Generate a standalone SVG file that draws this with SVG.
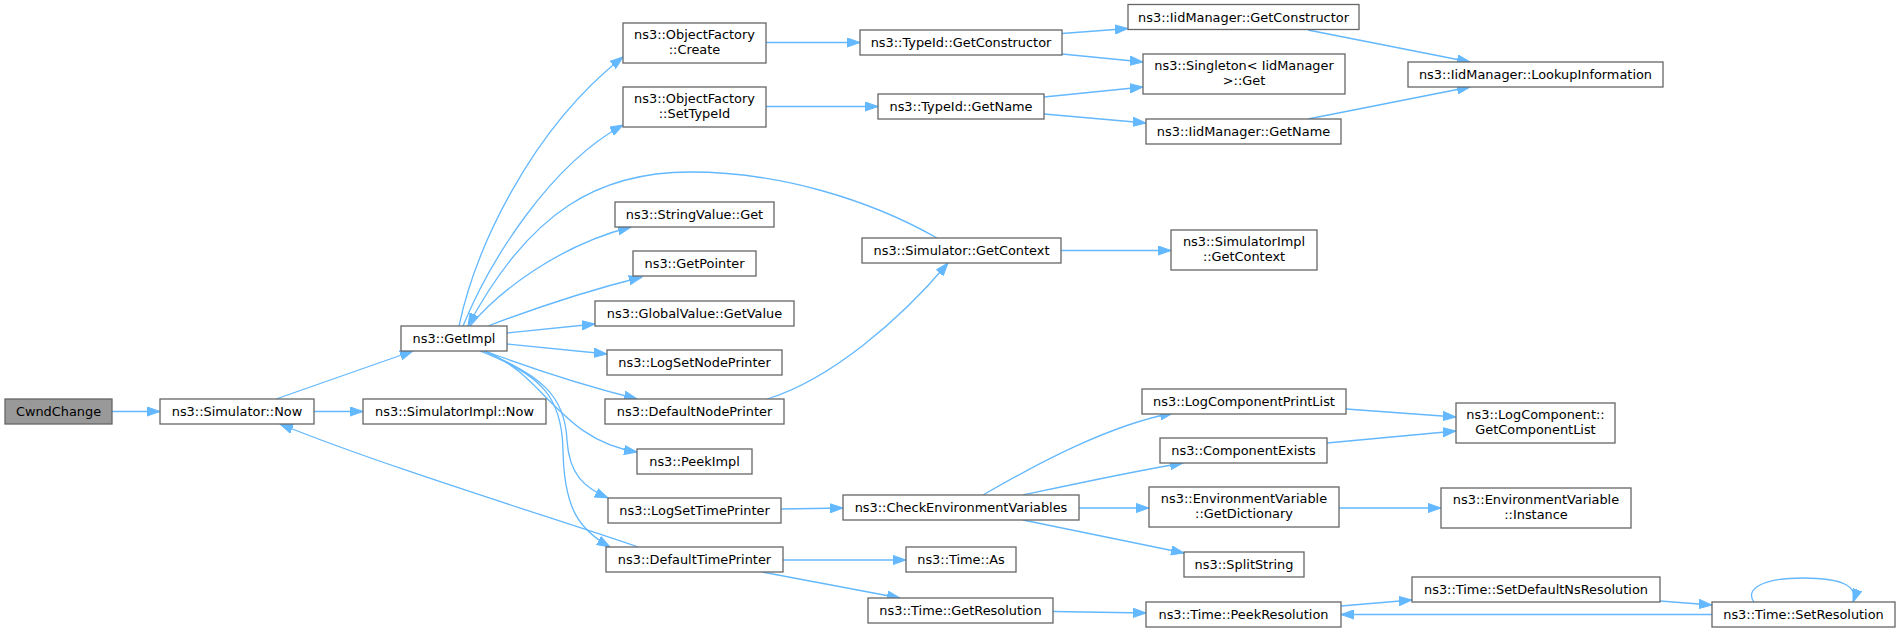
<svg xmlns="http://www.w3.org/2000/svg" width="1901" height="632" viewBox="0 0 1901 632">
<defs>
<style>
.n rect{fill:#ffffff;stroke:#666666;stroke-width:1.3}
.n.root rect{fill:#999999}
.n text{font-family:"DejaVu Sans","Liberation Sans",sans-serif;font-size:12.9px;fill:#000000;text-anchor:middle}
.e path{fill:none;stroke:#63b8ff;stroke-width:1.3;marker-end:url(#ah)}
</style>
<marker id="ah" markerUnits="userSpaceOnUse" markerWidth="14" markerHeight="10" viewBox="0 0 14 10" refX="13" refY="5" orient="auto">
<path d="M0,0.4 L13,5 L0,9.6 z" fill="#63b8ff" stroke="#63b8ff" stroke-width="1"/>
</marker>
</defs>
<rect width="1901" height="632" fill="#ffffff"/>
<g id="edges" class="e">
<path d="M112,411.5 L160,411.5"/>
<path d="M276,399 L413,351"/>
<path d="M314,411.5 L363,411.5"/>
<path d="M459,326 C475,250 530,130 623,57"/>
<path d="M463,326 C490,260 550,165 623,125"/>
<path d="M470,326 C500,290 560,245 631,227"/>
<path d="M488,326 C530,310 590,290 642,277"/>
<path d="M507,333 L595,324"/>
<path d="M507,344 L607,354"/>
<path d="M485,351 C530,368 590,387 637,399"/>
<path d="M485,351 C545,375 560,440 637,452"/>
<path d="M483,351 C540,375 565,395 567,440 C569,475 585,488 608,498"/>
<path d="M480,351 C540,375 562,395 563,450 C564,510 580,530 610,547"/>
<path d="M937,238 C870,200 780,172 690,172 C600,172 530,210 468,326"/>
<path d="M638,547 C560,520 380,465 280,424"/>
<path d="M767,399 C830,380 900,320 948,263"/>
<path d="M766,42.5 L860,42.5"/>
<path d="M766,106.5 L878,106.5"/>
<path d="M1062,33.5 L1128,28.5"/>
<path d="M1062,54 L1143,62"/>
<path d="M1044,97 L1143,87"/>
<path d="M1044,114 L1146,123"/>
<path d="M1308,30 L1470,62"/>
<path d="M1308,119 L1470,87"/>
<path d="M1061,250.5 L1171,250.5"/>
<path d="M781,509 L843,508"/>
<path d="M983,495 C1040,462 1110,425 1173,413"/>
<path d="M1023,495 C1070,485 1130,472 1183,463"/>
<path d="M1079,508 L1149,508"/>
<path d="M1023,520 L1184,553"/>
<path d="M783,560 L906,560"/>
<path d="M762,572 L900,598"/>
<path d="M1053,611.5 L1146,613"/>
<path d="M1346,409 L1456,417"/>
<path d="M1327,443 L1456,431"/>
<path d="M1339,508 L1441,508"/>
<path d="M1341,606 L1412,600"/>
<path d="M1660,601 L1712,605"/>
<path d="M1712,614.5 L1341,614.5"/>
<path d="M1754,602 C1745,590 1760,578 1803,578 C1846,578 1858,588 1853,602"/>
</g>
<g id="CwndChange" class="n root"><rect x="5" y="399" width="107" height="25"/><text x="58.5" y="416">CwndChange</text></g>
<g id="SimulatorNow" class="n"><rect x="160" y="399" width="154" height="25"/><text x="237" y="416">ns3::Simulator::Now</text></g>
<g id="SimulatorImplNow" class="n"><rect x="363" y="399" width="183" height="25"/><text x="454.5" y="416">ns3::SimulatorImpl::Now</text></g>
<g id="GetImpl" class="n"><rect x="401" y="326" width="106" height="25"/><text x="454" y="343">ns3::GetImpl</text></g>
<g id="ObjectFactoryCreate" class="n"><rect x="623" y="23" width="143" height="40"/><text x="694.5" y="39">ns3::ObjectFactory</text><text x="694.5" y="53.5">::Create</text></g>
<g id="ObjectFactorySetTypeId" class="n"><rect x="623" y="87" width="143" height="40"/><text x="694.5" y="103">ns3::ObjectFactory</text><text x="694.5" y="117.5">::SetTypeId</text></g>
<g id="StringValueGet" class="n"><rect x="615" y="202" width="159" height="25"/><text x="694.5" y="219">ns3::StringValue::Get</text></g>
<g id="GetPointer" class="n"><rect x="633" y="251" width="123" height="25"/><text x="694.5" y="268">ns3::GetPointer</text></g>
<g id="GlobalValueGetValue" class="n"><rect x="595" y="301" width="199" height="25"/><text x="694.5" y="318">ns3::GlobalValue::GetValue</text></g>
<g id="LogSetNodePrinter" class="n"><rect x="607" y="350" width="175" height="25"/><text x="694.5" y="367">ns3::LogSetNodePrinter</text></g>
<g id="DefaultNodePrinter" class="n"><rect x="605" y="399" width="179" height="25"/><text x="694.5" y="416">ns3::DefaultNodePrinter</text></g>
<g id="PeekImpl" class="n"><rect x="637" y="449" width="115" height="25"/><text x="694.5" y="466">ns3::PeekImpl</text></g>
<g id="LogSetTimePrinter" class="n"><rect x="608" y="498" width="173" height="25"/><text x="694.5" y="515">ns3::LogSetTimePrinter</text></g>
<g id="DefaultTimePrinter" class="n"><rect x="606" y="547" width="177" height="25"/><text x="694.5" y="564">ns3::DefaultTimePrinter</text></g>
<g id="TypeIdGetConstructor" class="n"><rect x="860" y="30" width="202" height="25"/><text x="961" y="47">ns3::TypeId::GetConstructor</text></g>
<g id="TypeIdGetName" class="n"><rect x="878" y="94" width="166" height="25"/><text x="961" y="111">ns3::TypeId::GetName</text></g>
<g id="SimulatorGetContext" class="n"><rect x="862" y="238" width="199" height="25"/><text x="961.5" y="255">ns3::Simulator::GetContext</text></g>
<g id="CheckEnvironmentVariables" class="n"><rect x="843" y="495" width="236" height="25"/><text x="961" y="512">ns3::CheckEnvironmentVariables</text></g>
<g id="TimeAs" class="n"><rect x="906" y="547" width="110" height="25"/><text x="961" y="564">ns3::Time::As</text></g>
<g id="TimeGetResolution" class="n"><rect x="868" y="598" width="185" height="25"/><text x="960.5" y="615">ns3::Time::GetResolution</text></g>
<g id="IidManagerGetConstructor" class="n"><rect x="1128" y="4.5" width="231" height="25"/><text x="1243.5" y="21.5">ns3::IidManager::GetConstructor</text></g>
<g id="SingletonIidManagerGet" class="n"><rect x="1143" y="54" width="202" height="40"/><text x="1244" y="70">ns3::Singleton&lt; IidManager</text><text x="1244" y="84.5">&gt;::Get</text></g>
<g id="IidManagerGetName" class="n"><rect x="1146" y="119" width="195" height="25"/><text x="1243.5" y="136">ns3::IidManager::GetName</text></g>
<g id="SimulatorImplGetContext" class="n"><rect x="1171" y="230" width="146" height="40"/><text x="1244" y="246">ns3::SimulatorImpl</text><text x="1244" y="260.5">::GetContext</text></g>
<g id="LogComponentPrintList" class="n"><rect x="1142" y="389" width="204" height="25"/><text x="1244" y="406">ns3::LogComponentPrintList</text></g>
<g id="ComponentExists" class="n"><rect x="1160" y="438" width="167" height="25"/><text x="1243.5" y="455">ns3::ComponentExists</text></g>
<g id="EnvironmentVariableGetDictionary" class="n"><rect x="1149" y="487" width="190" height="40"/><text x="1244" y="503">ns3::EnvironmentVariable</text><text x="1244" y="517.5">::GetDictionary</text></g>
<g id="SplitString" class="n"><rect x="1184" y="552" width="120" height="25"/><text x="1244" y="569">ns3::SplitString</text></g>
<g id="TimePeekResolution" class="n"><rect x="1146" y="602" width="195" height="25"/><text x="1243.5" y="619">ns3::Time::PeekResolution</text></g>
<g id="IidManagerLookupInformation" class="n"><rect x="1408" y="62" width="255" height="25"/><text x="1535.5" y="79">ns3::IidManager::LookupInformation</text></g>
<g id="LogComponentGetComponentList" class="n"><rect x="1456" y="403" width="159" height="40"/><text x="1535.5" y="419">ns3::LogComponent::</text><text x="1535.5" y="433.5">GetComponentList</text></g>
<g id="EnvironmentVariableInstance" class="n"><rect x="1441" y="488" width="190" height="40"/><text x="1536" y="504">ns3::EnvironmentVariable</text><text x="1536" y="518.5">::Instance</text></g>
<g id="TimeSetDefaultNsResolution" class="n"><rect x="1412" y="577" width="248" height="25"/><text x="1536" y="594">ns3::Time::SetDefaultNsResolution</text></g>
<g id="TimeSetResolution" class="n"><rect x="1712" y="602" width="183" height="25"/><text x="1803.5" y="619">ns3::Time::SetResolution</text></g>
</svg>
